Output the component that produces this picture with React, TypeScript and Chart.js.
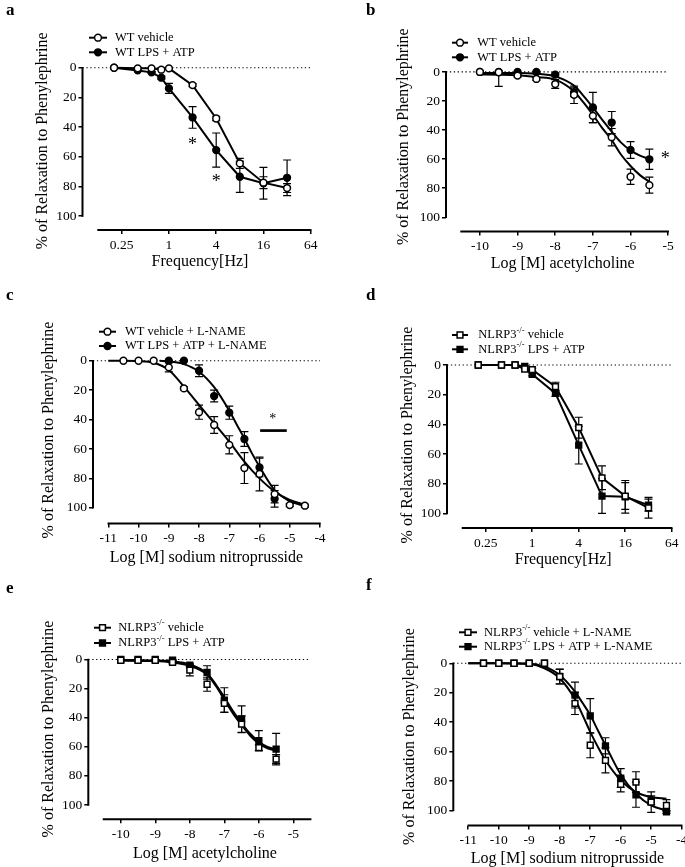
import React, { useEffect, useRef } from "react";
import { Chart, registerables } from "chart.js";

Chart.register(...registerables);

const FONT = "'Liberation Serif', 'Times New Roman', serif";

// ---------- text ----------
const Y_TITLE = "% of Relaxation to Phenylephrine";
const X_FREQ = "Frequency[Hz]";
const X_ACH = "Log [M] acetylcholine";
const X_SNP = "Log [M] sodium nitroprusside";
const LEG_WT = ["WT vehicle", "WT LPS + ATP"];
const LEG_WT_LNAME = ["WT vehicle + L-NAME", "WT LPS + ATP + L-NAME"];
const LEG_KO = ["NLRP3^-/-^ vehicle", "NLRP3^-/-^ LPS + ATP"];
const LEG_KO_LNAME = ["NLRP3^-/-^ vehicle + L-NAME", "NLRP3^-/-^ LPS + ATP + L-NAME"];

// ---------- ticks ----------
const Y_TICKS = [0, 20, 40, 60, 80, 100];
const Y_AXIS_SPAN = [0, 100];
const FREQ_TICKS = [0.25, 1, 4, 16, 64];
const FREQ_TICK_LABELS = ["0.25", "1", "4", "16", "64"];
const ACH_TICKS = [-10, -9, -8, -7, -6, -5];
const ACH_TICK_LABELS = ["-10", "-9", "-8", "-7", "-6", "-5"];
const SNP_TICKS = [-11, -10, -9, -8, -7, -6, -5, -4];
const SNP_TICK_LABELS = ["-11", "-10", "-9", "-8", "-7", "-6", "-5", "-4"];

// ---------- panel a ----------
const FREQ_A = [0.2, 0.4, 0.6, 0.8, 1, 2, 4, 8, 16, 32];
const A_VEH = [0, 0.4, 0.4, 1.3, 0.4, 11.7, 34.2, 64.5, 77.5, 81.1];
const A_VEH_ERR = [0, 0, 0, 0, 0, 1, 1.5, 3.4, 4, 3];
const A_LPS = [0, 1.8, 3.1, 6.7, 13.9, 33.5, 55.5, 73.5, 77.9, 74.2];
const A_LPS_ERR = [0, 0, 0.5, 1, 3.4, 7.3, 11.5, 10.5, 10.7, 12];
const A_SIG_X = [2, 4];
const A_SIG_Y = [49.4, 74.6];

// ---------- panel b ----------
const LOG_B = [-10, -9.5, -9, -8.5, -8, -7.5, -7, -6.5, -6, -5.5];
const B_VEH = [0, 0.2, 2.5, 4.8, 8.3, 15.7, 30.2, 44.9, 72.1, 77.9];
const B_VEH_ERR = [0, 9.7, 1, 1, 3, 6, 4.6, 6, 5.2, 5.5];
const B_LPS = [0, 0, 0, 0, 1.8, 14, 24.4, 34.8, 53.7, 60.1];
const B_LPS_ERR = [0, 0, 0, 0, 1, 3, 10.4, 7.6, 5.8, 7];
const B_FIT_X = [-10, -9.5, -9, -8.5, -8, -7.5, -7.25, -7, -6.75, -6.5, -6.25, -6, -5.75, -5.5];
const B_VEH_FIT = [1.8, 1.9, 2.3, 3.5, 5.3, 13.4, 21, 29.5, 38.7, 46.8, 57, 64.7, 71, 75.6];
const B_LPS_FIT = [0.7, 0.7, 0.7, 1.2, 3, 9.4, 16.4, 24.4, 33, 41, 48.6, 54, 57.6, 60];
const B_SIG_X = [-5.08];
const B_SIG_Y = [57];

// ---------- panel c ----------
const LOG_C_VEH = [-10.5, -10, -9.5, -9, -8.5, -8, -7.5, -7, -6.5, -6, -5.5, -5, -4.5];
const C_VEH = [0, 0, 0, 4.5, 18.8, 35, 43.7, 57.2, 73, 77, 90.7, 98.2, 98.6];
const C_VEH_ERR = [0, 0, 0, 3, 1, 4.8, 5.7, 6.2, 10.5, 11.5, 6, 1, 1];
const LOG_C_LPS = [-9, -8.5, -8, -7.5, -7, -6.5, -6, -5.5];
const C_LPS = [0, 0, 6.8, 24, 35.3, 53.2, 72.6, 93.9];
const C_LPS_ERR = [0, 0, 4, 4, 4.5, 5, 6.3, 5.6];
const C_VEH_FIT_X = [-11, -10.5, -10, -9.5, -9, -8.5, -8, -7.5, -7, -6.5, -6, -5.5, -5, -4.5];
const C_VEH_FIT = [0, 0, 0.2, 1.4, 6.3, 17.6, 30, 42.5, 55, 68.6, 80, 88.9, 94.6, 98];
const C_LPS_FIT_X = [-9.3, -9, -8.5, -8, -7.5, -7, -6.75, -6.5, -6.25, -6, -5.5, -5, -4.6];
const C_LPS_FIT = [0, 0.5, 2.3, 7.5, 18, 34, 43.5, 53, 63, 72, 88, 95.5, 98.2];
const C_SIG_X = [-5.56];
const C_SIG_Y = [37.3];
const C_BAR_X = [-5.98, -5.1];
const C_BAR_Y = [47.5, 47.5];

// ---------- panel d ----------
const FREQ_D = [0.2, 0.4, 0.6, 0.8, 1, 2, 4, 8, 16, 32];
const D_VEH = [0, 0, 0, 2.7, 3.1, 14.6, 42.2, 76, 88.3, 96.2];
const D_VEH_ERR = [0, 0, 0, 0, 1, 3, 7, 8, 9, 7];
const D_LPS = [0, 0, 0, 0.9, 6.3, 19.1, 54, 88.3, 88.8, 94.4];
const D_LPS_ERR = [0, 0, 0, 0.5, 1, 2, 12.7, 11.7, 11, 4];

// ---------- panel e ----------
const LOG_E = [-10, -9.5, -9, -8.5, -8, -7.5, -7, -6.5, -6, -5.5];
const E_VEH = [0.5, 0.5, 0.5, 2, 7.3, 17, 30.2, 44.4, 60.6, 68.4];
const E_VEH_ERR = [0, 0, 0, 1, 4, 4.8, 6, 5.7, 2, 3];
const E_LPS = [0, 0, 0, 0.5, 3.9, 8.9, 27.9, 41, 55.8, 61.6];
const E_LPS_ERR = [0, 0, 0, 0.5, 1, 4.6, 8.5, 9.2, 6.9, 10.8];
const E_FIT_X = [-10, -9.5, -9, -8.5, -8, -7.5, -7.25, -7, -6.75, -6.5, -6.25, -6, -5.75, -5.5];
const E_VEH_FIT = [0.9, 1, 1.1, 2, 4.3, 10.3, 18, 27.5, 37, 45, 52.4, 57.7, 61, 62.7];
const E_LPS_FIT = [0.3, 0.4, 0.6, 1.2, 3.4, 9.6, 17, 26, 35.5, 43.8, 51, 56.5, 60, 61.8];

// ---------- panel f ----------
const LOG_F = [-10.5, -10, -9.5, -9, -8.5, -8, -7.5, -7, -6.5, -6, -5.5, -5, -4.5];
const F_VEH = [0, 0, 0, 0, 0, 9.1, 27.3, 55.7, 65.9, 82.3, 80.7, 94.3, 96.6];
const F_VEH_ERR = [0, 0, 0, 0, 0, 5, 7.5, 8.5, 8.5, 5, 7, 7, 4];
const F_LPS = [0, 0, 0, 0, 0, 9, 21.6, 35.7, 56.1, 78, 89.3, 93, 101];
const F_LPS_ERR = [0, 0, 0, 0, 0, 5, 8.8, 11.7, 5.5, 6.4, 8.5, 3, 1];
const F_FIT_X = [-11, -10, -9, -8.5, -8, -7.5, -7.25, -7, -6.75, -6.5, -6, -5.5, -5, -4.5];
const F_VEH_FIT = [0, 0, 0.5, 3.4, 10.2, 24.5, 35.2, 46.6, 56.8, 65.9, 79.5, 87.5, 90.9, 92];
const F_LPS_FIT = [0, 0, 0.2, 2.3, 8, 19.3, 27, 35.2, 45.5, 55.7, 75.5, 88.6, 96.6, 100];

// ---------- layout (positions & sizes, not data) ----------
const PANELS: any[] = [
  {
    letter: "a", letterPos: [6, 1],
    box: { left: 0, top: 0, w: 340, h: 285 },
    area: { left: 82.5, top: 51.6, right: 317.5, bottom: 230 },
    xType: "logarithmic", xMin: 0.0792, xMax: 78.1, axisFrom: 0.125, axisTo: 64,
    xTicks: FREQ_TICKS, xTickLabels: FREQ_TICK_LABELS,
    yMin: -10.9, yMax: 109.4, xTitle: X_FREQ, xTitleGap: 32, yTitleX: 42.5,
    marker: "circle", connect: true,
    series: [
      { label: LEG_WT[0], x: FREQ_A, y: A_VEH, err: A_VEH_ERR, filled: false },
      { label: LEG_WT[1], x: FREQ_A, y: A_LPS, err: A_LPS_ERR, filled: true },
    ],
    fits: [],
    sig: { x: A_SIG_X, y: A_SIG_Y, size: 18 },
    legend: { from: 89, to: 107, textX: 115, rows: [37.7, 52.3] },
  },
  {
    letter: "b", letterPos: [366, 1],
    box: { left: 340, top: 0, w: 345, h: 285 },
    area: { left: 106, top: 41.9, right: 340.6, bottom: 231.5 },
    xType: "linear", xMin: -10.9, xMax: -4.7, axisFrom: -10.5, axisTo: -5,
    xTicks: ACH_TICKS, xTickLabels: ACH_TICK_LABELS,
    yMin: -20.7, yMax: 109.8, xTitle: X_ACH, xTitleGap: 32, yTitleX: 63.3,
    marker: "circle", connect: false,
    series: [
      { label: LEG_WT[0], x: LOG_B, y: B_VEH, err: B_VEH_ERR, filled: false },
      { label: LEG_WT[1], x: LOG_B, y: B_LPS, err: B_LPS_ERR, filled: true },
    ],
    fits: [
      { x: B_FIT_X, y: B_VEH_FIT },
      { x: B_FIT_X, y: B_LPS_FIT },
    ],
    sig: { x: B_SIG_X, y: B_SIG_Y, size: 18 },
    legend: { from: 112, to: 128, textX: 137.3, rows: [42.7, 57.3] },
  },
  {
    letter: "c", letterPos: [6, 286],
    box: { left: 0, top: 285, w: 340, h: 290 },
    area: { left: 93, top: 51.5, right: 320, bottom: 238.5 },
    xType: "linear", xMin: -11.506, xMax: -4, axisFrom: -11, axisTo: -4,
    xTicks: SNP_TICKS, xTickLabels: SNP_TICK_LABELS,
    yMin: -16.5, yMax: 110.7, xTitle: X_SNP, xTitleGap: 34, yTitleX: 49,
    marker: "circle", connect: false,
    series: [
      { label: LEG_WT_LNAME[0], x: LOG_C_VEH, y: C_VEH, err: C_VEH_ERR, filled: false },
      { label: LEG_WT_LNAME[1], x: LOG_C_LPS, y: C_LPS, err: C_LPS_ERR, filled: true },
    ],
    fits: [
      { x: C_VEH_FIT_X, y: C_VEH_FIT },
      { x: C_LPS_FIT_X, y: C_LPS_FIT },
    ],
    sig: { x: C_SIG_X, y: C_SIG_Y, size: 14 },
    bar: { x: C_BAR_X, y: C_BAR_Y },
    legend: { from: 99, to: 116, textX: 125, rows: [46.7, 61] },
  },
  {
    letter: "d", letterPos: [366, 286],
    box: { left: 340, top: 285, w: 345, h: 290 },
    area: { left: 107, top: 57, right: 341, bottom: 243 },
    xType: "logarithmic", xMin: 0.0788, xMax: 80.4, axisFrom: 0.125, axisTo: 64,
    xTicks: FREQ_TICKS, xTickLabels: FREQ_TICK_LABELS,
    yMin: -15.5, yMax: 109.8, xTitle: X_FREQ, xTitleGap: 32, yTitleX: 67.5,
    marker: "rect", connect: true,
    series: [
      { label: LEG_KO[0], x: FREQ_D, y: D_VEH, err: D_VEH_ERR, filled: false },
      { label: LEG_KO[1], x: FREQ_D, y: D_LPS, err: D_LPS_ERR, filled: true },
    ],
    fits: [],
    sig: { x: [], y: [], size: 18 },
    legend: { from: 112, to: 128, textX: 138.3, rows: [50, 64.3] },
  },
  {
    letter: "e", letterPos: [6, 579],
    box: { left: 0, top: 575, w: 340, h: 292 },
    area: { left: 88.3, top: 63.7, right: 321.7, bottom: 244.3 },
    xType: "linear", xMin: -10.94, xMax: -4.18, axisFrom: -10.5, axisTo: -4.5,
    xTicks: ACH_TICKS, xTickLabels: ACH_TICK_LABELS,
    yMin: -14.3, yMax: 109.8, xTitle: X_ACH, xTitleGap: 34, yTitleX: 49,
    marker: "rect", connect: false,
    series: [
      { label: LEG_KO[0], x: LOG_E, y: E_VEH, err: E_VEH_ERR, filled: false },
      { label: LEG_KO[1], x: LOG_E, y: E_LPS, err: E_LPS_ERR, filled: true },
    ],
    fits: [
      { x: E_FIT_X, y: E_VEH_FIT },
      { x: E_FIT_X, y: E_LPS_FIT },
    ],
    sig: { x: [], y: [], size: 18 },
    legend: { from: 94, to: 111, textX: 118.3, rows: [52.7, 68] },
  },
  {
    letter: "f", letterPos: [366, 576],
    box: { left: 340, top: 575, w: 360, h: 292 },
    area: { left: 113.3, top: 72.5, right: 341.7, bottom: 250.5 },
    xType: "linear", xMin: -11.49, xMax: -4, axisFrom: -11, axisTo: -4,
    xTicks: SNP_TICKS, xTickLabels: SNP_TICK_LABELS,
    yMin: -10.7, yMax: 110.2, xTitle: X_SNP, xTitleGap: 33, yTitleX: 69.5,
    marker: "rect", connect: false,
    series: [
      { label: LEG_KO_LNAME[0], x: LOG_F, y: F_VEH, err: F_VEH_ERR, filled: false },
      { label: LEG_KO_LNAME[1], x: LOG_F, y: F_LPS, err: F_LPS_ERR, filled: true },
    ],
    fits: [
      { x: F_FIT_X, y: F_VEH_FIT },
      { x: F_FIT_X, y: F_LPS_FIT },
    ],
    sig: { x: [], y: [], size: 18 },
    legend: { from: 119, to: 137, textX: 144, rows: [57.3, 71.7] },
  },
];

const CIRCLE_R = 3.4;
const RECT_R = 4.1;

function zip(xs: number[], ys: number[]) {
  return xs.map((x, i) => ({ x, y: ys[i] }));
}

function drawMarker(ctx: CanvasRenderingContext2D, style: string, x: number, y: number, filled: boolean) {
  ctx.save();
  ctx.lineWidth = 1.5;
  ctx.strokeStyle = "#000";
  ctx.fillStyle = filled ? "#000" : "#fff";
  ctx.beginPath();
  if (style === "rect") {
    const s = RECT_R * Math.SQRT1_2;
    ctx.rect(x - s, y - s, 2 * s, 2 * s);
  } else {
    ctx.arc(x, y, CIRCLE_R, 0, Math.PI * 2);
  }
  ctx.fill();
  ctx.stroke();
  ctx.restore();
}

function drawRichLabel(ctx: CanvasRenderingContext2D, text: string, x: number, y: number) {
  const parts = text.split("^");
  let cx = x;
  parts.forEach((part, i) => {
    if (!part) return;
    const sup = i % 2 === 1;
    ctx.font = sup ? `8.5px ${FONT}` : `12.5px ${FONT}`;
    ctx.fillText(part, cx, sup ? y - 4.5 : y);
    cx += ctx.measureText(part).width;
  });
}

function makePlugin(p: any) {
  return {
    id: "prism_" + p.letter,
    beforeDatasetsDraw(chart: any) {
      const { ctx, chartArea, scales } = chart;
      const xs = scales.x;
      const ys = scales.y;
      ctx.save();
      ctx.strokeStyle = "#000";
      ctx.lineWidth = 2;
      // y axis (only 0..100)
      ctx.beginPath();
      ctx.moveTo(chartArea.left, ys.getPixelForValue(Y_AXIS_SPAN[0]) - 0.75);
      ctx.lineTo(chartArea.left, ys.getPixelForValue(Y_AXIS_SPAN[1]) + 0.75);
      ctx.stroke();
      // x axis (detached)
      ctx.beginPath();
      ctx.moveTo(xs.getPixelForValue(p.axisFrom) - 0.75, chartArea.bottom);
      ctx.lineTo(xs.getPixelForValue(p.axisTo) + 0.75, chartArea.bottom);
      ctx.stroke();
      // error bars
      ctx.lineWidth = 1.2;
      chart.data.datasets.forEach((ds: any) => {
        if (!ds.errorBars) return;
        ds.data.forEach((pt: any, j: number) => {
          const e = ds.errorBars[j];
          if (!e) return;
          const px = xs.getPixelForValue(pt.x);
          const loV = pt.y - e;
          const lo = ys.getPixelForValue(Math.max(0, loV));
          const hi = ys.getPixelForValue(pt.y + e);
          ctx.beginPath();
          ctx.moveTo(px, lo);
          ctx.lineTo(px, hi);
          if (loV >= 0) {
            ctx.moveTo(px - 4, lo);
            ctx.lineTo(px + 4, lo);
          }
          ctx.moveTo(px - 4, hi);
          ctx.lineTo(px + 4, hi);
          ctx.stroke();
        });
      });
      ctx.restore();
    },
    afterDraw(chart: any) {
      const { ctx, scales } = chart;
      const xs = scales.x;
      const ys = scales.y;
      ctx.save();
      // legend
      p.series.forEach((s: any, i: number) => {
        const y = p.legend.rows[i];
        ctx.strokeStyle = "#000";
        ctx.lineWidth = 2;
        ctx.beginPath();
        ctx.moveTo(p.legend.from, y);
        ctx.lineTo(p.legend.to, y);
        ctx.stroke();
        drawMarker(ctx, p.marker, (p.legend.from + p.legend.to) / 2, y, s.filled);
        ctx.fillStyle = "#000";
        ctx.textAlign = "left";
        ctx.textBaseline = "middle";
        drawRichLabel(ctx, s.label, p.legend.textX, y);
      });
      // significance asterisks
      ctx.fillStyle = "#000";
      ctx.textAlign = "center";
      ctx.textBaseline = "alphabetic";
      ctx.font = `${p.sig.size}px ${FONT}`;
      p.sig.x.forEach((xv: number, i: number) => {
        const px = xs.getPixelForValue(xv);
        const py = ys.getPixelForValue(p.sig.y[i]);
        ctx.fillText("*", px, py + p.sig.size * 0.5);
      });
      ctx.restore();
    },
  };
}

function buildConfig(p: any) {
  const lh = 16 * 1.2;
  const xScaleH = p.xTitleGap + lh / 2;
  const datasets: any[] = [];
  p.series.forEach((s: any, i: number) => {
    datasets.push({
      label: s.label,
      data: zip(s.x, s.y),
      errorBars: s.err,
      showLine: p.connect,
      borderColor: "#000",
      borderWidth: 2,
      tension: 0,
      pointStyle: p.marker,
      pointRadius: p.marker === "rect" ? RECT_R : CIRCLE_R,
      pointBorderWidth: 1.5,
      pointBorderColor: "#000",
      pointBackgroundColor: s.filled ? "#000" : "#fff",
      order: i + 1,
      clip: false,
    });
  });
  p.fits.forEach((f: any) => {
    datasets.push({
      data: zip(f.x, f.y),
      showLine: true,
      borderColor: "#000",
      borderWidth: 2,
      pointRadius: 0,
      cubicInterpolationMode: "monotone",
      order: 5,
      clip: false,
    });
  });
  if (p.bar) {
    datasets.push({
      data: zip(p.bar.x, p.bar.y),
      showLine: true,
      borderColor: "#000",
      borderWidth: 2.7,
      pointRadius: 0,
      order: 6,
      clip: false,
    });
  }
  datasets.push({
    data: zip([p.xMin, p.axisTo], [0, 0]),
    showLine: true,
    borderColor: "#000",
    borderWidth: 1.2,
    borderDash: [1.3, 2.6],
    pointRadius: 0,
    order: 20,
    clip: false,
  });

  const tickFont = { family: FONT, size: 13.5 };
  const titleFont = { family: FONT, size: 16 };

  return {
    type: "scatter",
    data: { datasets },
    plugins: [makePlugin(p)],
    options: {
      responsive: false,
      animation: false,
      devicePixelRatio: 1,
      events: [],
      layout: {
        padding: {
          left: 0,
          top: p.area.top,
          right: p.box.w - p.area.right,
          bottom: p.box.h - p.area.bottom - xScaleH,
        },
      },
      plugins: {
        legend: { display: false },
        tooltip: { enabled: false },
        title: { display: false },
      },
      scales: {
        x: {
          type: p.xType,
          min: p.xMin,
          max: p.xMax,
          afterBuildTicks: (sc: any) => {
            sc.ticks = p.xTicks.map((v: number) => ({ value: v }));
          },
          afterFit: (sc: any) => {
            sc.height = xScaleH;
          },
          ticks: {
            autoSkip: false,
            maxRotation: 0,
            minRotation: 0,
            padding: 3,
            color: "#000",
            font: tickFont,
            callback: (_v: any, i: number) => p.xTickLabels[i],
          },
          grid: {
            drawOnChartArea: false,
            drawTicks: true,
            tickLength: 4,
            color: "#000",
            lineWidth: 1.5,
          },
          border: { display: false },
          title: {
            display: true,
            text: p.xTitle,
            color: "#000",
            font: titleFont,
            padding: { top: 0, bottom: 0 },
          },
        },
        y: {
          type: "linear",
          reverse: true,
          min: p.yMin,
          max: p.yMax,
          afterBuildTicks: (sc: any) => {
            sc.ticks = Y_TICKS.map((v) => ({ value: v }));
          },
          afterFit: (sc: any) => {
            sc.width = p.area.left;
          },
          ticks: {
            padding: 2,
            color: "#000",
            font: tickFont,
            callback: (v: any) => String(v),
          },
          grid: {
            drawOnChartArea: false,
            drawTicks: true,
            tickLength: 4,
            color: "#000",
            lineWidth: 1.5,
          },
          border: { display: false },
          title: {
            display: true,
            text: Y_TITLE,
            color: "#000",
            font: titleFont,
            padding: { top: p.yTitleX - lh / 2, bottom: 0 },
          },
        },
      },
    },
  };
}

function Panel({ p }: { p: any }) {
  const ref = useRef<HTMLCanvasElement | null>(null);
  useEffect(() => {
    if (!ref.current) return;
    const chart = new Chart(ref.current, buildConfig(p) as any);
    return () => chart.destroy();
  }, [p]);
  return (
    <>
      <canvas
        ref={ref}
        width={p.box.w}
        height={p.box.h}
        style={{ position: "absolute", left: p.box.left, top: p.box.top, width: p.box.w, height: p.box.h }}
      />
      <div
        style={{
          position: "absolute",
          left: p.letterPos[0],
          top: p.letterPos[1],
          fontFamily: FONT,
          fontWeight: "bold",
          fontSize: 17,
          lineHeight: "17px",
          color: "#000",
        }}
      >
        {p.letter}
      </div>
    </>
  );
}

export default function App() {
  return (
    <div
      style={{
        position: "absolute",
        left: 0,
        top: 0,
        width: 685,
        height: 867,
        overflow: "hidden",
        background: "#fff",
      }}
    >
      {PANELS.map((p) => (
        <Panel key={p.letter} p={p} />
      ))}
    </div>
  );
}
